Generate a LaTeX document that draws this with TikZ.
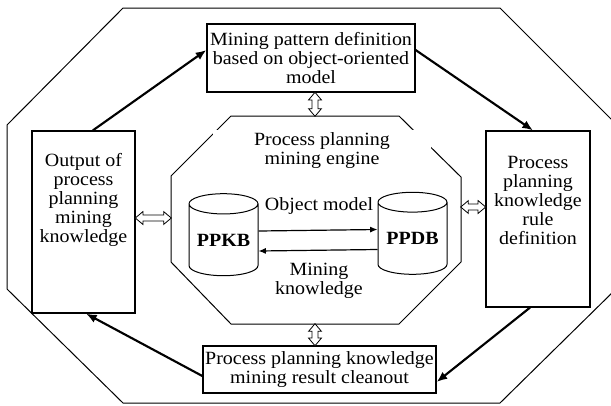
\documentclass[tikz,border=0pt]{standalone}
\usepackage{fontspec}
\setmainfont{Liberation Serif}[FakeStretch=1.07]
\usetikzlibrary{shapes.geometric,shapes.arrows,arrows.meta}
\tikzset{
    box/.style={draw, line width=0.9pt, inner sep=1pt},
    db/.style={draw, cylinder, shape border rotate=90, aspect=0.38, line width=0.75pt, minimum width=51.75pt, minimum height=61.5pt, inner sep=0pt, font=\fontsize{14}{14.25}\selectfont\bfseries},
    flow/.style={-{Latex[length=8pt,width=6.5pt]}, line width=1.6pt},
    data/.style={-{Latex[length=5.5pt,width=4.5pt]}, line width=0.9pt},
    dblarrow/.style={double arrow, draw, fill=white, line width=0.6pt, minimum height=#1, minimum width=9pt, double arrow head extend=2.6pt, double arrow tip angle=80, inner xsep=0pt, inner ysep=1.9pt, midway, sloped}
}
\begin{document}
\begin{tikzpicture}[x=0.75pt, y=-0.75pt, font=\fontsize{14}{14.25}\selectfont]
        %Frame
            \useasboundingbox (0,0) rectangle (611,405);
            \draw[line width=0.75pt] (123,8) -- (500,8) -- (616,124) -- (616,289) -- (500,403) -- (123,403) -- (7,289) -- (7,125) -- cycle;
        %Mining engine
            \draw[line width=0.75pt] (231,116) -- (399,116) -- (461,177) -- (461,262) -- (399,324) -- (231,324) -- (171,262) -- (171,176) -- cycle;
            \coordinate (engN) at (315,116);
            \coordinate (engS) at (315,324);
            \coordinate (engW) at (171,218);
            \coordinate (engE) at (461,207);
            \node[fill=white, minimum width=163.5pt, minimum height=31.5pt, align=center, inner sep=0pt] (engine) at (322,151) {Process planning\\mining engine};
        %Databases
            \node[db] (ppkb) at (223.5,240) {PPKB};
            \node[db] (ppdb) at (412.5,238.5) {PPDB};
            \draw[data] ([yshift=6.75pt]ppkb.east) -- ([yshift=6.75pt]ppdb.west);
            \draw[data] ([yshift=-8.25pt]ppdb.west) -- ([yshift=-8.25pt]ppkb.east);
            \node (objmodel) at (319,206) {Object model};
            \node[align=center] (minknow) at (319,280.5) {Mining\\knowledge};
        %Steps
            \node[box, minimum width=156pt, minimum height=51pt, align=center] (pattern) at (311,58) {Mining pattern definition\\based on object-oriented\\model};
            \node[box, minimum width=78pt, minimum height=132pt] (rule) at (538,219) {};
            \node[align=center] (ruletext) at (538,200) {Process\\planning\\knowledge\\rule\\definition};
            \node[box, minimum width=174.75pt, minimum height=35.25pt, align=center] (cleanout) at (319.5,369.5) {Process planning knowledge\\mining result cleanout};
            \node[box, minimum width=77.25pt, minimum height=136.5pt] (output) at (83.5,222) {};
            \node[align=center] (outputtext) at (83.5,200) {Output of\\process\\planning\\mining\\knowledge};
        %Cycle
            \draw[flow] ([xshift=7pt]output.north) -- ([yshift=6pt]pattern.west);
            \draw[flow] ([yshift=6pt]pattern.east) -- ([xshift=-3.75pt]rule.north);
            \draw[flow] ([xshift=-6pt]rule.south) -- ([yshift=-9.4pt]cleanout.east);
            \draw[flow] ([yshift=-4.9pt]cleanout.west) -- ([xshift=1.9pt]output.south);
        %Exchange
            \path (engN |- pattern.south) -- (engN) node[dblarrow=18pt] (dblN) {};
            \path (engS) -- (engS |- cleanout.north) node[dblarrow=16.5pt] (dblS) {};
            \path (output.east |- engW) -- (engW) node[dblarrow=27pt] (dblW) {};
            \path (engE) -- (rule.west |- engE) node[dblarrow=18.75pt] (dblE) {};
\end{tikzpicture}
\end{document}
